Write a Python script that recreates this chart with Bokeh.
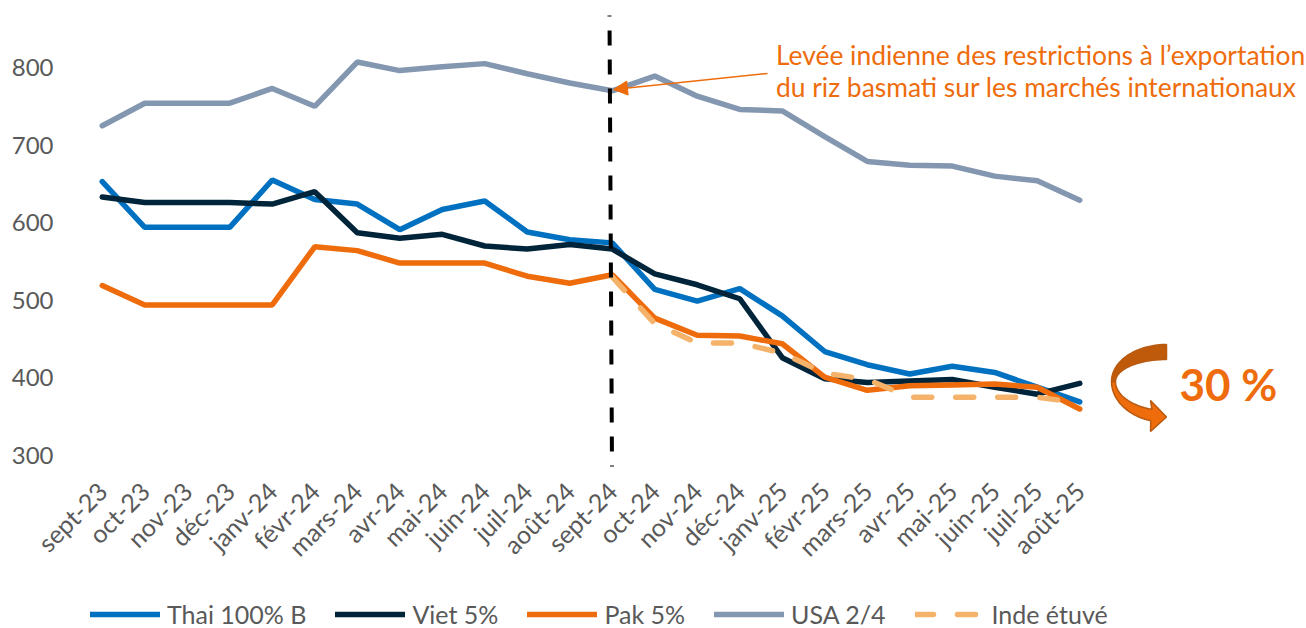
import numpy as np
from math import pi
from bokeh.plotting import figure
from bokeh.embed import file_html
from bokeh.resources import INLINE
from bokeh.models import Legend, LegendItem, Arrow, NormalHead, FixedTicker, Range1d, Label

months = ["sept-23","oct-23","nov-23","déc-23","janv-24","févr-24","mars-24","avr-24","mai-24","juin-24","juil-24","août-24",
          "sept-24","oct-24","nov-24","déc-24","janv-25","févr-25","mars-25","avr-25","mai-25","juin-25","juil-25","août-25"]
thai = [653,594,594,594,655,630,624,591,617,628,588,578,574,514,499,515,480,434,417,405,415,407,388,369]
viet = [633,626,626,626,624,640,587,580,585,570,566,572,566,534,520,502,426,399,394,396,398,388,379,393]
pak  = [519,494,494,494,494,569,564,548,548,548,531,522,533,477,455,454,444,401,384,390,391,392,388,360]
usa  = [725,754,754,754,773,750,807,796,801,805,792,780,770,789,763,746,744,711,679,674,673,660,654,629]
inde = [530,470,445,445,432,406,398,375,375,375,375,368]
y_ticks = [300,400,500,600,700,800]

FONT = "Lato"
ORANGE = "#EE6C0C"

W_PX, H_PX = 1306, 628
def X(px): return (px - 101.75) / 42.5
def Y(py): return 300 + (455 - py) / 0.776

p = figure(width=W_PX, height=H_PX, output_backend="svg", toolbar_location=None,
           x_range=Range1d(X(0), X(W_PX)), y_range=Range1d(Y(H_PX), Y(0)),
           min_border_left=0, min_border_right=0, min_border_top=0, min_border_bottom=0,
           outline_line_color=None, background_fill_color=None, border_fill_color="white")
p.grid.visible = False
for ax in (p.xaxis[0], p.yaxis[0]):
    ax.axis_line_color = None
    ax.major_tick_line_color = None
    ax.minor_tick_line_color = None
    ax.major_label_text_color = "#595959"
    ax.major_label_text_font = FONT
    ax.major_label_text_font_size = "24px"
p.xaxis[0].ticker = FixedTicker(ticks=list(range(len(months))))
p.xaxis[0].major_label_overrides = {i: m for i, m in enumerate(months)}
p.xaxis[0].major_label_orientation = pi/4
p.xaxis[0].major_label_text_font_size = "25px"
p.xaxis[0].major_label_standoff = 10
p.xaxis[0].fixed_location = Y(470)
p.yaxis[0].ticker = FixedTicker(ticks=y_ticks)
p.yaxis[0].major_label_standoff = 22
p.yaxis[0].fixed_location = X(81)

xs = list(range(len(months)))
W = 5.5
r_usa = p.line(xs, usa, line_color="#8497B0", line_width=W, line_cap="round")
r_thai = p.line(xs, thai, line_color="#0070C0", line_width=W, line_cap="round")
r_viet = p.line(xs, viet, line_color="#002439", line_width=W, line_cap="round")
r_pak = p.line(xs, pak, line_color=ORANGE, line_width=W, line_cap="round")
r_inde = p.line(xs[12:], inde, line_color="#F4B26A", line_width=W, line_dash="18 24", line_cap="round")

# vertical marker
p.segment([X(609)], [Y(15)], [X(611.5)], [Y(466)], line_color="black", line_width=4,
          line_dash="15 14", line_dash_offset=14)

# annotation arrow
p.add_layout(Arrow(end=NormalHead(size=14, fill_color=ORANGE, line_color=ORANGE),
                   x_start=X(767), y_start=Y(73), x_end=X(613), y_end=Y(89),
                   line_color=ORANGE, line_width=1.5))
p.add_layout(Label(x=X(775.5), y=Y(54), text="Levée indienne des restrictions à l’exportation",
                   text_font=FONT, text_font_size="26.4px", text_color=ORANGE, text_baseline="middle"))
p.add_layout(Label(x=X(775.5), y=Y(86.5), text="du riz basmati sur les marchés internationaux",
                   text_font=FONT, text_font_size="26.4px", text_color=ORANGE, text_baseline="middle"))
p.add_layout(Label(x=X(1179), y=Y(383), text="30 %", text_font=FONT, text_font_style="bold",
                   text_font_size="44px", text_color=ORANGE, text_baseline="middle"))

# curved arrow
t = np.linspace(0, pi/2, 24)
ux = np.r_[1166 - 55*np.sin(t), (1166 - 51*np.sin(t))[::-1]]
uy = np.r_[381 - 37*np.cos(t), (381 - 22*np.cos(t))[::-1]]
t2 = np.linspace(pi/2, 0.29, 24)
lx = np.r_[1166 - 55*np.sin(t2), [1150, 1166, 1150], (1166 - 51*np.sin(t2))[::-1]]
ly = np.r_[381 + 41*np.cos(t2), [431, 416.5, 400], (381 + 29*np.cos(t2))[::-1]]
p.patch(X(lx), Y(ly), fill_color=ORANGE, line_color="#B85A10", line_width=1.5)
p.patch(X(ux), Y(uy), fill_color="#BF5A0B", line_color="#B85A10", line_width=1.5)

legend = Legend(items=[LegendItem(label="Thai 100% B", renderers=[r_thai]),
                       LegendItem(label="Viet 5%", renderers=[r_viet]),
                       LegendItem(label="Pak 5%", renderers=[r_pak]),
                       LegendItem(label="USA 2/4", renderers=[r_usa]),
                       LegendItem(label="Inde étuvé", renderers=[r_inde])],
                orientation="horizontal", location=(90, -1), glyph_width=70, glyph_height=20,
                label_standoff=7, spacing=29, margin=0, padding=8,
                background_fill_alpha=0, border_line_color=None,
                label_text_font=FONT, label_text_font_size="25px", label_text_color="#595959")
p.add_layout(legend, "center")

open("out.html", "w").write(file_html(p, INLINE))
